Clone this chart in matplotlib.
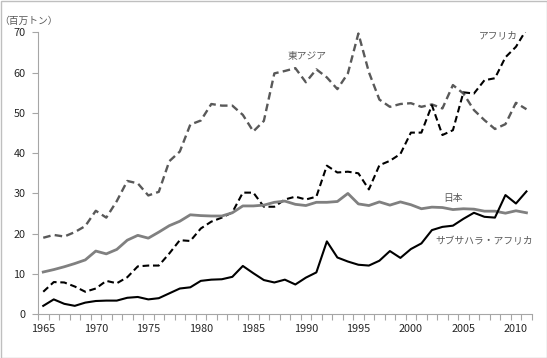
import matplotlib
matplotlib.use("Agg")
import matplotlib.pyplot as plt
from matplotlib.patches import Rectangle

plt.rcParams['font.family'] = ['Noto Sans CJK JP', 'DejaVu Sans']

years = list(range(1965, 2012))

east_asia = [19.0, 19.7, 19.3, 20.4, 21.9, 25.7, 24.0, 28.1, 33.1, 32.5,
             29.5, 30.4, 38.0, 40.4, 47.1, 48.1, 52.2, 51.8, 51.8, 49.5,
             45.4, 48.0, 59.8, 60.4, 61.1, 57.6, 60.8, 58.8, 55.9, 59.8,
             69.7, 60.1, 53.3, 51.5, 52.2, 52.4, 51.5, 52.1, 51.1, 56.9,
             54.8, 50.7, 48.2, 46.0, 47.2, 52.5, 50.9]

africa = [5.6, 8.0, 7.9, 6.9, 5.6, 6.4, 8.3, 7.7, 9.2, 11.9,
          12.1, 12.1, 15.1, 18.4, 18.2, 21.3, 23.0, 24.0, 25.3, 30.2,
          30.2, 26.7, 26.7, 28.5, 29.2, 28.5, 29.2, 36.9, 35.2, 35.4,
          35.0, 31.0, 37.0, 38.1, 39.8, 45.1, 45.1, 51.9, 44.5, 45.7,
          55.1, 54.8, 58.1, 58.6, 63.8, 66.4, 70.7]

japan = [10.5, 11.1, 11.8, 12.6, 13.5, 15.7, 15.0, 16.1, 18.4, 19.6,
         18.9, 20.4, 22.0, 23.1, 24.7, 24.5, 24.4, 24.4, 25.2, 26.9,
         26.9, 27.1, 27.8, 28.1, 27.3, 27.0, 27.8, 27.8, 28.0, 30.0,
         27.4, 27.0, 27.9, 27.1, 27.9, 27.2, 26.2, 26.6, 26.5, 26.0,
         26.2, 26.1, 25.6, 25.6, 25.1, 25.7, 25.2]

ssa = [2.1, 3.7, 2.6, 2.1, 2.9, 3.3, 3.4, 3.4, 4.1, 4.3,
       3.7, 4.0, 5.2, 6.4, 6.7, 8.3, 8.6, 8.7, 9.3, 12.0,
       10.2, 8.5, 7.9, 8.6, 7.4, 9.1, 10.4, 18.1, 14.1, 13.1,
       12.3, 12.1, 13.3, 15.7, 14.0, 16.2, 17.6, 20.9, 21.7, 22.0,
       23.7, 25.2, 24.2, 24.0, 29.6, 27.5, 30.5]

xtick_labels = [1965, 1970, 1975, 1980, 1985, 1990, 1995, 2000, 2005, 2010]
ytick_labels = [0, 10, 20, 30, 40, 50, 60, 70]

W, H = 547, 358
fig = plt.figure(figsize=(W / 100, H / 100), dpi=100)
ax = fig.add_axes([38 / W, 1 - 314.3 / H, (531.7 - 38) / W, (314.3 - 32.3) / H])

ax.plot(years, east_asia, color='#595959', lw=1.7, ls=(0, (3.2, 1.8)))
ax.plot(years, africa, color='#000000', lw=1.5, ls=(0, (3.2, 1.8)))
ax.plot(years, japan, color='#808080', lw=2.0)
ax.plot(years, ssa, color='#000000', lw=1.5)

ax.set_xlim(1964.5, 2011.5)
ax.set_ylim(0, 70)

ax.set_xticks(xtick_labels)
ax.set_xticklabels([str(v) for v in xtick_labels])
ax.tick_params(axis='x', which='major', length=0, pad=7, labelsize=7.8, colors='#262626')
ax.set_xticks([y - 0.5 for y in years] + [2011.5], minor=True)
ax.tick_params(axis='x', which='minor', length=4, color='#a6a6a6', width=0.8)

ax.set_yticks(ytick_labels)
ax.tick_params(axis='y', length=4, color='#a6a6a6', width=0.8, labelsize=7.8,
               pad=5, labelcolor='#262626')

for s in ['top', 'right']:
    ax.spines[s].set_visible(False)
for s in ['left', 'bottom']:
    ax.spines[s].set_color('#a6a6a6')
    ax.spines[s].set_linewidth(0.8)

def put(text, px, py):
    fig.text(px / W, 1 - py / H, text, fontsize=7, color='#595959', ha='center', va='center')

put('東アジア', 307.5, 56.5)
put('アフリカ', 498.5, 35)
put('日本', 453, 197.5)
put('サブサハラ・アフリカ', 484.5, 241)
put('（百万トン）', 29, 20.5)

fig.patches.append(Rectangle((0.5 / W, 0.5 / H), (W - 1) / W, (H - 1) / H,
                             transform=fig.transFigure, fill=False,
                             edgecolor='#bfbfbf', lw=1.0))

fig.savefig('out.png', dpi=100)
